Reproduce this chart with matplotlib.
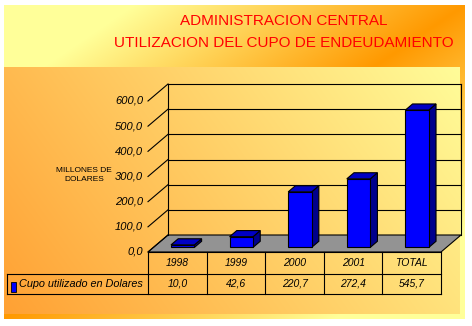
import numpy as np
import matplotlib
matplotlib.use("Agg")
import matplotlib.pyplot as plt
from matplotlib.patches import Polygon, Rectangle

# ---------------- data ----------------
categories = ["1998", "1999", "2000", "2001", "TOTAL"]
values = [10.0, 42.6, 220.7, 272.4, 545.7]
value_labels = ["10,0", "42,6", "220,7", "272,4", "545,7"]
yticks = [0, 100, 200, 300, 400, 500, 600]
ytick_labels = ["0,0", "100,0", "200,0", "300,0", "400,0", "500,0", "600,0"]
series_name = "Cupo utilizado en Dolares"
title_lines = ["ADMINISTRACION CENTRAL", "UTILIZACION DEL CUPO DE ENDEUDAMIENTO"]
ylabel_text = "MILLONES DE\nDOLARES"

# ---------------- layout ----------------
W, H = 472, 326
DPI = 100
FONT = "Liberation Sans"

fig = plt.figure(figsize=(W / DPI, H / DPI), dpi=DPI)

# background gradient
bg = fig.add_axes([0, 0, 1, 1], zorder=0)
yy, xx = np.mgrid[0:H, 0:W] + 0.5
img = np.ones((H, W, 3))
yellow = np.array([1.0, 1.0, 0.6])
orange = np.array([1.0, 0.6, 0.0])
ox0, ox1, oy0, oy1 = 4, 465, 5, 319
xn = (xx - ox0) / (ox1 - ox0)
yn = (yy - oy0) / (oy1 - oy0)
s = np.clip(np.abs(xn + yn - 1) * 1.4, 0, 1)
outer = orange + (yellow - orange) * s[..., None]
m = (xx >= ox0) & (xx < ox1) & (yy >= oy0) & (yy < oy1)
img[m] = outer[m]
ix0, ix1, iy0, iy1 = 4, 460, 67, 314
xn = (xx - ix0) / (ix1 - ix0)
yn = (yy - iy0) / (iy1 - iy0)
t = np.clip(0.72 * xn + 0.28 * (1 - yn), 0, 1)
orange2 = np.array([1.0, 0.63, 0.2])
yellow2 = np.array([1.0, 0.99, 0.6])
inner = orange2 + (yellow2 - orange2) * t[..., None]
m = (xx >= ix0) & (xx < ix1) & (yy >= iy0) & (yy < iy1)
img[m] = inner[m]
bg.imshow(img, extent=[0, W, H, 0], aspect="auto", interpolation="bilinear")
bg.set_xlim(0, W)
bg.set_ylim(H, 0)
bg.axis("off")

# main axes: x in category units, y in value units
PX_L, PX_R = 148, 441   # x pixels of -0.5 and 4.5
PY_0, PY_600 = 252, 101  # y pixels of value 0 and 600
ax = fig.add_axes([PX_L / W, (H - PY_0) / H, (PX_R - PX_L) / W, (PY_0 - PY_600) / H], zorder=1)
ax.set_xlim(-0.5, len(categories) - 0.5)
ax.set_ylim(0, 600)
ax.axis("off")
ax.patch.set_alpha(0)

ppx = (PX_R - PX_L) / len(categories)   # pixels per category unit
ppy = (PY_0 - PY_600) / 600.0          # pixels per value unit


def px2x(px):
    return -0.5 + (px - PX_L) / ppx


def px2y(py):
    return (PY_0 - py) / ppy


DX = 20 / ppx   # full depth offset (category units)
DY = 17 / ppy   # full depth offset (value units)
ymax = yticks[-1]
xl, xr = -0.5, len(categories) - 0.5
lw = 0.8

# floor
floor = Polygon([(xl, 0), (xr, 0), (xr + DX, DY), (xl + DX, DY)], closed=True,
                facecolor="#939393", edgecolor="black", lw=lw, clip_on=False, zorder=2)
ax.add_patch(floor)

# walls: gridlines on back wall, diagonals on left wall
for v in yticks[1:]:
    ax.plot([xl + DX, xr + DX], [v + DY, v + DY], color="black", lw=lw, clip_on=False, zorder=2)
for v in yticks:
    ax.plot([xl, xl + DX], [v, v + DY], color="black", lw=lw, clip_on=False, zorder=2)
ax.plot([xl + DX, xl + DX], [DY, ymax + DY], color="black", lw=lw, clip_on=False, zorder=2)
ax.plot([xr + DX, xr + DX], [DY, ymax + DY], color="black", lw=lw, clip_on=False, zorder=2)

# tick labels
for v, lab in zip(yticks, ytick_labels):
    ax.text(px2x(143), v, lab, ha="right", va="center", fontsize=8, style="italic",
            family=FONT, clip_on=False)

# bars
bw = 0.40
f0, f1 = 0.27, 0.36
for i, v in enumerate(values):
    x0 = i - bw / 2 + f0 * DX
    x1 = x0 + bw
    y0 = f0 * DY
    y1 = y0 + v
    ddx, ddy = f1 * DX, f1 * DY
    side = Polygon([(x1, y0), (x1 + ddx, y0 + ddy), (x1 + ddx, y1 + ddy), (x1, y1)],
                   closed=True, facecolor="#00008C", edgecolor="black", lw=lw,
                   clip_on=False, zorder=3)
    top = Polygon([(x0, y1), (x1, y1), (x1 + ddx, y1 + ddy), (x0 + ddx, y1 + ddy)],
                  closed=True, facecolor="#0000C4", edgecolor="black", lw=lw,
                  clip_on=False, zorder=3)
    front = Rectangle((x0, y0), bw, v, facecolor="#0000FF", edgecolor="black", lw=lw,
                      clip_on=False, zorder=4)
    ax.add_patch(side)
    ax.add_patch(top)
    ax.add_patch(front)

# data table
r1 = px2y(274)
r2 = px2y(294)
xleg = px2x(7)
ax.plot([xl, xr], [0, 0], color="black", lw=lw, clip_on=False, zorder=5)
ax.plot([xleg, xr], [r1, r1], color="black", lw=lw, clip_on=False, zorder=5)
ax.plot([xleg, xr], [r2, r2], color="black", lw=lw, clip_on=False, zorder=5)
ax.plot([xleg, xleg], [r1, r2], color="black", lw=lw, clip_on=False, zorder=5)
for k in range(len(categories) + 1):
    xb = -0.5 + k
    ax.plot([xb, xb], [0, r2], color="black", lw=lw, clip_on=False, zorder=5)
for i, (c, vl) in enumerate(zip(categories, value_labels)):
    ax.text(i, r1 / 2, c, ha="center", va="center", fontsize=7.5, style="italic",
            family=FONT, clip_on=False)
    ax.text(i, (r1 + r2) / 2, vl, ha="center", va="center", fontsize=7.5, style="italic",
            family=FONT, clip_on=False)
# legend key
mx0, mx1 = px2x(11), px2x(16)
my0, my1 = px2y(292), px2y(282)
ax.add_patch(Rectangle((mx0, my0), mx1 - mx0, my1 - my0, facecolor="#0000FF",
                       edgecolor="black", lw=0.6, clip_on=False, zorder=5))
ax.text(px2x(19), (r1 + r2) / 2, series_name, ha="left", va="center", fontsize=7.8,
        style="italic", family=FONT, clip_on=False)

# axis label
fig.text(84 / W, 1 - 175 / H, ylabel_text, ha="center", va="center", fontsize=6,
         family=FONT, linespacing=1.3)

# title
fig.text(284 / W, 1 - 21 / H, title_lines[0], ha="center", va="center", fontsize=11,
         color="#FF0000", family=FONT)
fig.text(284 / W, 1 - 43 / H, title_lines[1], ha="center", va="center", fontsize=11,
         color="#FF0000", family=FONT)

fig.savefig("out.png", dpi=DPI)
